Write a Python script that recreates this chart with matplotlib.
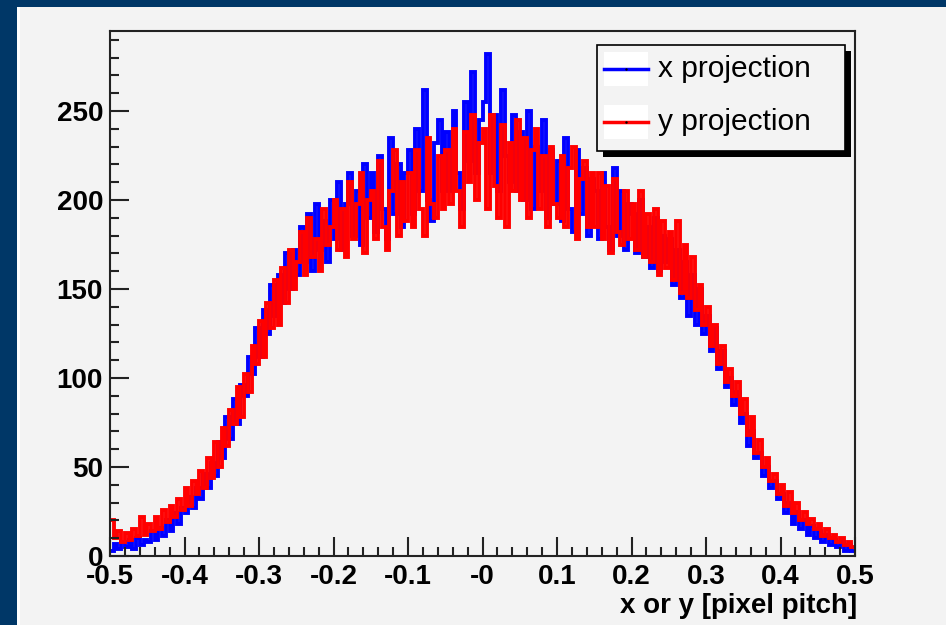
import numpy as np
import matplotlib
matplotlib.use('Agg')
import matplotlib.pyplot as plt
from matplotlib.patches import Rectangle
from matplotlib.lines import Line2D
from matplotlib.ticker import MultipleLocator

# histogram range and binning (200 bins of 0.005)
x_lo, x_hi, n_bins = -0.5, 0.5, 200

# x projection (blue) (groups of 10 bins)
x_proj = [
    3, 7, 4, 8, 5, 9, 4, 10, 6, 9,
    8, 14, 9, 16, 11, 20, 14, 24, 18, 27,
    24, 33, 27, 38, 32, 46, 38, 52, 45, 64,
    55, 78, 66, 88, 74, 96, 90, 112, 102, 128,
    112, 138, 125, 152, 135, 158, 142, 170, 150, 172,
    158, 185, 165, 192, 160, 198, 172, 188, 165, 200,
    178, 210, 172, 198, 215, 180, 205, 175, 220, 190,
    215, 182, 225, 195, 178, 235, 192, 220, 185, 215,
    228, 192, 240, 205, 262, 200, 188, 232, 245, 205,
    238, 205, 250, 215, 195, 255, 222, 272, 215, 245,
    255, 282, 215, 248, 205, 262, 225, 210, 248, 205,
    238, 200, 250, 195, 230, 205, 245, 190, 228, 198,
    222, 188, 235, 195, 182, 228, 192, 218, 180, 212,
    205, 178, 215, 185, 172, 218, 180, 205, 172, 198,
    192, 170, 200, 168, 185, 162, 190, 160, 180, 165,
    178, 152, 172, 145, 165, 135, 158, 130, 150, 125,
    135, 115, 128, 105, 115, 95, 100, 85, 92, 75,
    80, 62, 70, 55, 58, 45, 50, 38, 42, 32,
    35, 24, 30, 18, 25, 15, 20, 12, 17, 10,
    14, 8, 12, 6, 9, 5, 8, 3, 6, 3,
]

# y projection (red)
y_proj = [
    20, 10, 14, 8, 13, 9, 15, 11, 22, 12,
    18, 14, 22, 15, 26, 19, 28, 22, 32, 26,
    38, 28, 42, 35, 48, 38, 55, 44, 64, 50,
    72, 62, 82, 74, 95, 78, 102, 92, 118, 108,
    132, 112, 142, 128, 155, 130, 162, 142, 172, 150,
    165, 182, 158, 190, 168, 178, 160, 195, 175, 185,
    200, 172, 195, 168, 210, 178, 198, 215, 170, 200,
    205, 178, 222, 185, 172, 205, 228, 180, 210, 188,
    215, 185, 228, 195, 180, 235, 198, 190, 225, 195,
    228, 198, 240, 205, 185, 238, 210, 248, 200, 232,
    240, 195, 248, 208, 190, 242, 185, 232, 205, 245,
    200, 235, 190, 228, 240, 195, 225, 185, 230, 198,
    190, 225, 185, 218, 230, 178, 212, 222, 185, 215,
    185, 215, 178, 208, 170, 212, 182, 175, 205, 178,
    198, 172, 205, 168, 192, 165, 195, 158, 188, 162,
    182, 155, 188, 148, 175, 145, 168, 138, 152, 130,
    140, 118, 130, 108, 118, 98, 105, 90, 98, 80,
    88, 68, 78, 58, 65, 50, 55, 42, 46, 35,
    40, 28, 36, 24, 30, 20, 25, 18, 21, 15,
    18, 11, 15, 10, 12, 8, 10, 6, 8, 5,
]

x_ticks = [-0.5, -0.4, -0.3, -0.2, -0.1, 0.0, 0.1, 0.2, 0.3, 0.4, 0.5]
x_tick_labels = ['-0.5', '-0.4', '-0.3', '-0.2', '-0.1', '-0', '0.1', '0.2', '0.3', '0.4', '0.5']
y_ticks = [0, 50, 100, 150, 200, 250]
legend_labels = ['x projection', 'y projection']

W, H = 946, 625
bg = '#f3f3f3'
border = '#003767'

plt.rcParams['font.family'] = ['Liberation Sans', 'DejaVu Sans']

fig = plt.figure(figsize=(W / 100, H / 100), dpi=100, facecolor=border)


def fx(px):
    return px / W


def fy(py):
    return 1 - py / H


# canvas panel (behind the axes)
fig.patches.append(Rectangle((fx(17), 0), 1, fy(7), transform=fig.transFigure,
                             facecolor='white', edgecolor='none', zorder=-10))
fig.patches.append(Rectangle((fx(20), 0), 1, fy(7), transform=fig.transFigure,
                             facecolor=bg, edgecolor='none', zorder=-9))

ax = fig.add_axes([fx(110), fy(556), fx(855) - fx(110), fy(31) - fy(556)])
ax.set_facecolor(bg)

edges = np.linspace(x_lo, x_hi, n_bins + 1)
ax.stairs(x_proj, edges, color='#0000ff', linewidth=2.8, baseline=None)
ax.stairs(y_proj, edges, color='#ff0000', linewidth=2.8, baseline=None)

ax.set_xlim(x_lo, x_hi)
ax.set_ylim(0, 295)

for s in ax.spines.values():
    s.set_linewidth(1.5)
    s.set_color('#222222')
    s.set_zorder(3)

ax.set_xticks(x_ticks)
ax.set_xticklabels(x_tick_labels)
ax.set_yticks(y_ticks)
ax.xaxis.set_minor_locator(MultipleLocator(0.02))
ax.yaxis.set_minor_locator(MultipleLocator(10))
ax.tick_params(which='both', direction='in', top=False, right=False, width=1.5, color='#222222')
ax.tick_params(which='major', length=13.5)
ax.tick_params(which='minor', length=6.8)
ax.tick_params(axis='x', which='major', pad=6, labelsize=20)
ax.tick_params(axis='y', which='major', pad=5, labelsize=20)
for lab in ax.get_xticklabels() + ax.get_yticklabels():
    lab.set_fontweight('bold')

fig.text(fx(857), fy(606), 'x or y [pixel pitch]', ha='right', va='center',
         fontsize=20, fontweight='bold')

# legend box with shadow
lx0, ly0, lx1, ly1 = 597, 45, 845, 151
fig.patches.append(Rectangle((fx(lx0 + 6), fy(ly1 + 6)), fx(lx1 - lx0), fy(ly0) - fy(ly1),
                             transform=fig.transFigure, facecolor='black', edgecolor='none', zorder=5))
fig.patches.append(Rectangle((fx(lx0), fy(ly1)), fx(lx1 - lx0), fy(ly0) - fy(ly1),
                             transform=fig.transFigure, facecolor=bg, edgecolor='black',
                             linewidth=1.2, zorder=6))
for i, (lab, col) in enumerate(zip(legend_labels, ['#0000ff', '#ff0000'])):
    yc = 69 + i * 53
    fig.patches.append(Rectangle((fx(604), fy(yc + 17)), fx(44), fy(yc - 17) - fy(yc + 17),
                                 transform=fig.transFigure, facecolor='white', edgecolor='none', zorder=7))
    fig.lines.append(Line2D([fx(604), fx(648)], [fy(yc), fy(yc)], transform=fig.transFigure,
                            color=col, linewidth=2.5, zorder=8))
    fig.lines.append(Line2D([fx(626)], [fy(yc)], transform=fig.transFigure, marker='.',
                            markersize=1.5, color='black', zorder=9))
    fig.text(fx(658), fy(yc), lab, ha='left', va='center', fontsize=21.5, zorder=9)

fig.savefig('out.png', dpi=100, facecolor=border)
